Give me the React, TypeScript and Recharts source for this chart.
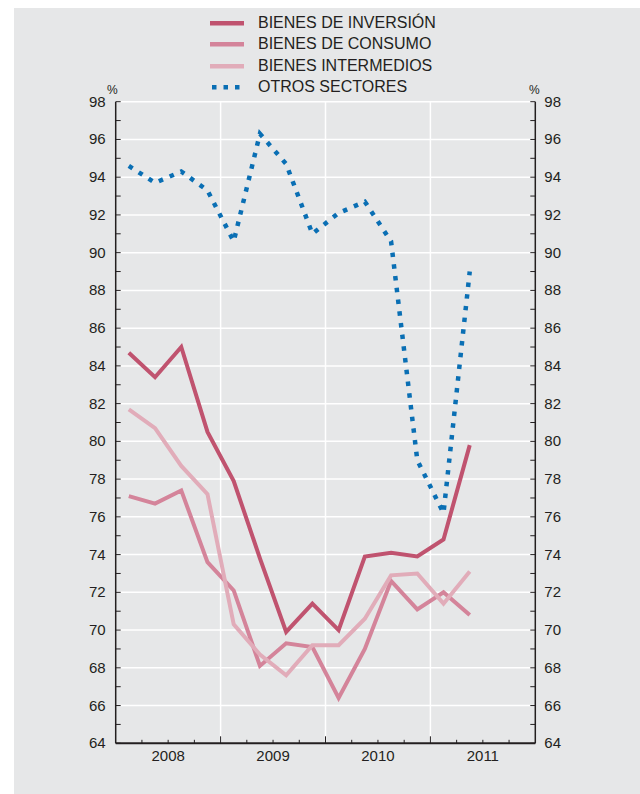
import { LineChart, Line, XAxis, YAxis, ReferenceLine } from 'recharts';

// quarterly series, 2008 T1 - 2011 T2
const quarters = [
  '2008 T1', '2008 T2', '2008 T3', '2008 T4',
  '2009 T1', '2009 T2', '2009 T3', '2009 T4',
  '2010 T1', '2010 T2', '2010 T3', '2010 T4',
  '2011 T1', '2011 T2',
];
const years = ['2008', '2009', '2010', '2011'];

const inversion = [84.7, 83.4, 85.0, 80.5, 77.9, 73.8, 69.9, 71.4, 70.0, 73.9, 74.1, 73.9, 74.8, 79.8];
const consumo = [77.1, 76.7, 77.4, 73.6, 72.1, 68.1, 69.3, 69.1, 66.4, 69.0, 72.6, 71.1, 72.0, 70.8];
const intermedios = [81.7, 80.7, 78.7, 77.2, 70.3, 68.7, 67.6, 69.2, 69.2, 70.6, 72.9, 73.0, 71.4, 73.1];
const otros = [94.6, 93.7, 94.3, 93.3, 90.6, 96.3, 94.7, 91.0, 92.1, 92.7, 90.6, 79.0, 76.2, 89.0];

const yGridTicks = [66, 68, 70, 72, 74, 76, 78, 80, 82, 84, 86, 88, 90, 92, 94, 96, 98];
const yAllTicks = Array.from({ length: 35 }, (_, i) => 64 + i);
const quarterTicks = Array.from({ length: 17 }, (_, i) => i);
const yearBounds = [4, 8, 12];

const series = [
  { key: 'inversion', name: 'BIENES DE INVERSIÓN', color: '#C0536F', dotted: false },
  { key: 'consumo', name: 'BIENES DE CONSUMO', color: '#D4849A', dotted: false },
  { key: 'intermedios', name: 'BIENES INTERMEDIOS', color: '#E1ACB9', dotted: false },
  { key: 'otros', name: 'OTROS SECTORES', color: '#0A6FB4', dotted: true },
];

// x = middle of the quarter, counted in quarters from the start of 2008
const data = quarters.map((q, i) => ({
  quarter: q,
  x: i + 0.5,
  inversion: inversion[i],
  consumo: consumo[i],
  intermedios: intermedios[i],
  otros: otros[i],
}));

const ink = '#231F20';
const bg = '#E6E7E8';
const font = '"Liberation Sans", Arial, Helvetica, sans-serif';
const LEFT_GAP = 10;
const RIGHT_GAP = 9;
const X_GAP = 7;

function LeftTick(props: any) {
  const { x, y, payload } = props;
  const v = payload.value;
  const axisX = x + LEFT_GAP;
  return (
    <g>
      <line x1={axisX} x2={axisX + 5} y1={y} y2={y} stroke={ink} strokeWidth={1} />
      {v % 2 === 0 && (
        <text x={x} y={y} dy={5} textAnchor="end" fontSize={15} fill={ink} fontFamily={font}>
          {v}
        </text>
      )}
    </g>
  );
}

function RightTick(props: any) {
  const { x, y, payload } = props;
  const v = payload.value;
  const axisX = x - RIGHT_GAP;
  return (
    <g>
      <line x1={axisX} x2={axisX - 5} y1={y} y2={y} stroke={ink} strokeWidth={1} />
      {v % 2 === 0 && (
        <text x={x} y={y} dy={5} textAnchor="start" fontSize={15} fill={ink} fontFamily={font}>
          {v}
        </text>
      )}
    </g>
  );
}

function BottomTick(props: any) {
  const { x, y, payload } = props;
  const v = payload.value;
  const axisY = y - X_GAP;
  const len = v % 4 === 0 ? 7 : 3.5;
  return (
    <g>
      {v > 0 && v < 16 && <line x1={x} x2={x} y1={axisY} y2={axisY - len} stroke={ink} strokeWidth={1} />}
      {v % 4 === 2 && (
        <text x={x} y={axisY + 18} textAnchor="middle" fontSize={15} fill={ink} fontFamily={font}>
          {years[(v - 2) / 4]}
        </text>
      )}
    </g>
  );
}

function Legend() {
  return (
    <div style={{ position: 'absolute', left: 196, top: 4, fontFamily: font, fontSize: 16, color: ink }}>
      {series.map((s) => (
        <div key={s.key} style={{ display: 'flex', alignItems: 'center', height: 21.5 }}>
          <svg width={34} height={6} style={{ marginRight: 14 }}>
            {s.dotted ? (
              [0, 1, 2].map((k) => <rect key={k} x={2 + k * 11.5} y={1} width={4.5} height={4.5} fill={s.color} />)
            ) : (
              <rect x={0} y={1} width={34} height={4.5} fill={s.color} />
            )}
          </svg>
          <span>{s.name}</span>
        </div>
      ))}
    </div>
  );
}

export default function App() {
  return (
    <div style={{ position: 'absolute', left: 14, top: 8, width: 626, height: 786, background: bg }}>
      <Legend />
      <span style={{ position: 'absolute', left: 93, top: 75, fontSize: 12, fontFamily: font, color: ink }}>%</span>
      <span style={{ position: 'absolute', left: 515, top: 75, fontSize: 12, fontFamily: font, color: ink }}>%</span>
      <LineChart
        width={626}
        height={786}
        data={data}
        margin={{ top: 93.7, right: 64.7, bottom: 20.7, left: 61.7 }}
      >
        <XAxis
          xAxisId="main"
          dataKey="x"
          type="number"
          domain={[0, 16]}
          allowDataOverflow
          ticks={quarterTicks}
          interval={0}
          tickLine={false}
          tickSize={0}
          tickMargin={X_GAP}
          height={30}
          axisLine={{ stroke: ink, strokeWidth: 2 }}
          tick={<BottomTick />}
        />
        <YAxis
          yAxisId="left"
          domain={[64, 98]}
          allowDataOverflow
          ticks={yAllTicks}
          interval={0}
          width={40}
          tickSize={0}
          tickMargin={LEFT_GAP}
          axisLine={{ stroke: ink, strokeWidth: 1.5 }}
          tickLine={false}
          tick={<LeftTick />}
        />
        <YAxis
          yAxisId="right"
          orientation="right"
          domain={[64, 98]}
          allowDataOverflow
          ticks={yAllTicks}
          interval={0}
          width={40}
          tickSize={0}
          tickMargin={RIGHT_GAP}
          axisLine={{ stroke: ink, strokeWidth: 1.5 }}
          tickLine={false}
          tick={<RightTick />}
        />
        {yGridTicks.map((v) => (
          <ReferenceLine key={`h${v}`} xAxisId="main" yAxisId="left" y={v} stroke="#FFFFFF" strokeWidth={1.5} />
        ))}
        {yearBounds.map((v) => (
          <ReferenceLine key={`v${v}`} xAxisId="main" yAxisId="left" x={v} stroke="#FFFFFF" strokeWidth={1.5} />
        ))}
        {series.map((s) => (
          <Line
            key={s.key}
            xAxisId="main"
            yAxisId="left"
            type="linear"
            dataKey={s.key}
            name={s.name}
            stroke={s.color}
            strokeWidth={s.dotted ? 4.5 : 4}
            strokeDasharray={s.dotted ? '4.5 7.3' : undefined}
            strokeLinecap="butt"
            strokeLinejoin="miter"
            dot={false}
            activeDot={false}
            isAnimationActive={false}
          />
        ))}
      </LineChart>
    </div>
  );
}
